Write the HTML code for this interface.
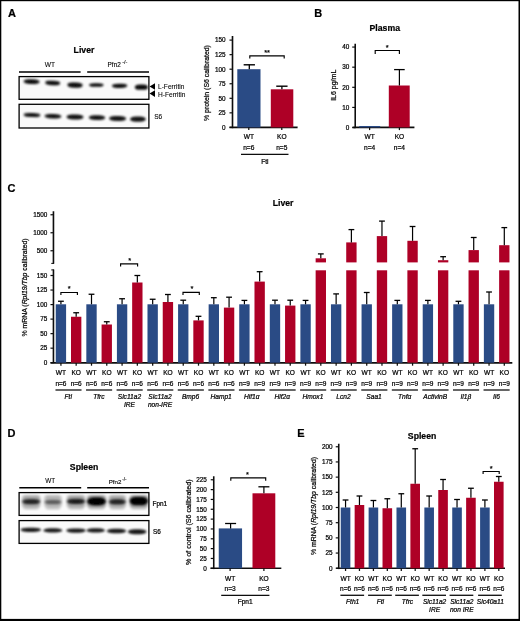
<!DOCTYPE html>
<html><head><meta charset="utf-8"><title>Figure</title>
<style>html,body{margin:0;padding:0;background:#fff;}svg{display:block;}</style></head>
<body>
<svg width="520" height="621" viewBox="0 0 520 621" font-family="'Liberation Sans', sans-serif" fill="#000" stroke="#000" stroke-width="0">
<defs><filter id="b1" x="-20%" y="-60%" width="140%" height="220%"><feGaussianBlur stdDeviation="1.1 0.85"/></filter><filter id="b2" x="-20%" y="-60%" width="140%" height="220%"><feGaussianBlur stdDeviation="1.4 1.2"/></filter><filter id="b3" x="-5%" y="-5%" width="110%" height="110%"><feGaussianBlur stdDeviation="0.3"/></filter></defs>
<rect x="0" y="0" width="520" height="621" fill="#fff"/>
<g filter="url(#b3)">
<text x="7.90" y="16.80" stroke-width="0.22" font-size="11" text-anchor="start" font-weight="bold" font-style="normal" >A</text>
<text x="314.20" y="17.00" stroke-width="0.22" font-size="11" text-anchor="start" font-weight="bold" font-style="normal" >B</text>
<text x="7.50" y="192.20" stroke-width="0.22" font-size="11" text-anchor="start" font-weight="bold" font-style="normal" >C</text>
<text x="7.50" y="437.30" stroke-width="0.22" font-size="11" text-anchor="start" font-weight="bold" font-style="normal" >D</text>
<text x="297.30" y="437.10" stroke-width="0.22" font-size="11" text-anchor="start" font-weight="bold" font-style="normal" >E</text>
<text x="84.00" y="53.00" stroke-width="0.22" font-size="8.7" text-anchor="middle" font-weight="bold" font-style="normal" >Liver</text>
<text x="384.80" y="31.30" stroke-width="0.22" font-size="8.7" text-anchor="middle" font-weight="bold" font-style="normal" >Plasma</text>
<text x="283.10" y="206.20" stroke-width="0.22" font-size="8.7" text-anchor="middle" font-weight="bold" font-style="normal" >Liver</text>
<text x="84.10" y="470.00" stroke-width="0.22" font-size="8.7" text-anchor="middle" font-weight="bold" font-style="normal" >Spleen</text>
<text x="422.10" y="438.80" stroke-width="0.22" font-size="8.7" text-anchor="middle" font-weight="bold" font-style="normal" >Spleen</text>
<text x="50.00" y="66.70" stroke-width="0.08" font-size="6.6" text-anchor="middle" font-weight="normal" font-style="normal" >WT</text>
<text x="107.6" y="66.9" font-size="6.4" stroke-width="0.12" text-anchor="start">Pfn2<tspan dx="1.4" dy="-3.2" font-size="5.6">-/-</tspan></text>
<line x1="19.00" y1="72.00" x2="80.60" y2="72.00" stroke="#000" stroke-width="1.4"/>
<line x1="87.20" y1="72.00" x2="149.00" y2="72.00" stroke="#000" stroke-width="1.4"/>
<rect x="19.1" y="76.6" width="129.8" height="22.700000000000003" fill="#fafafa" stroke="#000" stroke-width="1.3"/>
<rect x="19.1" y="104.3" width="129.8" height="23.700000000000003" fill="#fafafa" stroke="#000" stroke-width="1.3"/>
<rect x="23.60" y="79.30" width="16.00" height="4.60" rx="5.76" ry="2.30" fill="#000" opacity="0.95" filter="url(#b1)" transform="rotate(2 31.60 81.60)"/>
<rect x="45.20" y="80.85" width="15.00" height="4.30" rx="5.40" ry="2.15" fill="#000" opacity="0.95" filter="url(#b1)" transform="rotate(3 52.70 83.00)"/>
<rect x="67.25" y="82.50" width="15.50" height="5.20" rx="5.58" ry="2.60" fill="#000" opacity="0.95" filter="url(#b1)" transform="rotate(2 75.00 85.10)"/>
<rect x="89.05" y="83.20" width="14.50" height="3.60" rx="5.22" ry="1.80" fill="#000" opacity="0.95" filter="url(#b1)" transform="rotate(0 96.30 85.00)"/>
<rect x="111.85" y="83.70" width="15.50" height="4.20" rx="5.58" ry="2.10" fill="#000" opacity="0.95" filter="url(#b1)" transform="rotate(-1 119.60 85.80)"/>
<rect x="134.90" y="84.60" width="13.00" height="5.20" rx="4.68" ry="2.60" fill="#000" opacity="0.95" filter="url(#b1)" transform="rotate(0 141.40 87.20)"/>
<rect x="23.50" y="113.00" width="17.00" height="4.00" rx="6.12" ry="2.00" fill="#000" opacity="0.92" filter="url(#b1)" transform="rotate(2 32.00 115.00)"/>
<rect x="44.50" y="114.00" width="17.00" height="4.40" rx="6.12" ry="2.20" fill="#000" opacity="0.92" filter="url(#b1)" transform="rotate(2 53.00 116.20)"/>
<rect x="66.50" y="114.55" width="17.00" height="4.90" rx="6.12" ry="2.45" fill="#000" opacity="0.92" filter="url(#b1)" transform="rotate(1 75.00 117.00)"/>
<rect x="88.75" y="115.20" width="16.50" height="4.80" rx="5.94" ry="2.40" fill="#000" opacity="0.92" filter="url(#b1)" transform="rotate(1 97.00 117.60)"/>
<rect x="109.10" y="116.10" width="17.00" height="5.00" rx="6.12" ry="2.50" fill="#000" opacity="0.92" filter="url(#b1)" transform="rotate(1 117.60 118.60)"/>
<rect x="130.15" y="116.60" width="15.50" height="5.20" rx="5.58" ry="2.60" fill="#000" opacity="0.92" filter="url(#b1)" transform="rotate(0 137.90 119.20)"/>
<polygon points="149.5,86.5 155.0,83.2 155.0,89.8" fill="#000"/>
<polygon points="149.5,93.6 155.0,90.3 155.0,96.9" fill="#000"/>
<text x="158.00" y="89.00" stroke-width="0.08" font-size="6.6" text-anchor="start" font-weight="normal" font-style="normal" >L-Ferritin</text>
<text x="158.00" y="96.60" stroke-width="0.08" font-size="6.6" text-anchor="start" font-weight="normal" font-style="normal" >H-Ferritin</text>
<text x="154.20" y="118.90" stroke-width="0.08" font-size="6.6" text-anchor="start" font-weight="normal" font-style="normal" >S6</text>
<text x="50.20" y="483.00" stroke-width="0.08" font-size="6.4" text-anchor="middle" font-weight="normal" font-style="normal" >WT</text>
<text x="108.7" y="483.6" font-size="6.2" stroke-width="0.12" text-anchor="start">Pfn2<tspan dx="0.8" dy="-2.4" font-size="4.6">-/-</tspan></text>
<line x1="19.30" y1="487.80" x2="81.20" y2="487.80" stroke="#000" stroke-width="1.4"/>
<line x1="87.20" y1="487.80" x2="149.00" y2="487.80" stroke="#000" stroke-width="1.4"/>
<rect x="19.1" y="492.6" width="129.8" height="22.799999999999955" fill="#fafafa" stroke="#000" stroke-width="1.3"/>
<rect x="19.1" y="520.6" width="129.8" height="22.799999999999955" fill="#fafafa" stroke="#000" stroke-width="1.3"/>
<rect x="22.20" y="495.2" width="18.00" height="12.5" rx="3" fill="#000" opacity="0.32" filter="url(#b2)"/>
<rect x="22.20" y="499.00" width="18.00" height="5.20" rx="6.48" ry="2.60" fill="#000" opacity="0.651" filter="url(#b2)" transform="rotate(0 31.20 501.60)"/>
<rect x="23.46" y="500.50" width="15.48" height="2.60" rx="5.57" ry="1.30" fill="#000" opacity="0.496" filter="url(#b1)" transform="rotate(0 31.20 501.80)"/>
<rect x="22.65" y="507.70" width="17.10" height="1.80" rx="6.16" ry="0.90" fill="#000" opacity="0.2" filter="url(#b1)" transform="rotate(0 31.20 508.60)"/>
<rect x="44.50" y="495.2" width="17.00" height="12.5" rx="3" fill="#000" opacity="0.27" filter="url(#b2)"/>
<rect x="44.50" y="499.70" width="17.00" height="4.60" rx="6.12" ry="2.30" fill="#000" opacity="0.35700000000000004" filter="url(#b2)" transform="rotate(0 53.00 502.00)"/>
<rect x="45.69" y="501.05" width="14.62" height="2.30" rx="5.26" ry="1.15" fill="#000" opacity="0.272" filter="url(#b1)" transform="rotate(0 53.00 502.20)"/>
<rect x="44.92" y="507.70" width="16.15" height="1.80" rx="5.81" ry="0.90" fill="#000" opacity="0.2" filter="url(#b1)" transform="rotate(0 53.00 508.60)"/>
<rect x="67.00" y="495.2" width="18.00" height="12.5" rx="3" fill="#000" opacity="0.33" filter="url(#b2)"/>
<rect x="67.00" y="498.70" width="18.00" height="5.40" rx="6.48" ry="2.70" fill="#000" opacity="0.6930000000000001" filter="url(#b2)" transform="rotate(0 76.00 501.40)"/>
<rect x="68.26" y="500.25" width="15.48" height="2.70" rx="5.57" ry="1.35" fill="#000" opacity="0.528" filter="url(#b1)" transform="rotate(0 76.00 501.60)"/>
<rect x="67.45" y="507.70" width="17.10" height="1.80" rx="6.16" ry="0.90" fill="#000" opacity="0.2" filter="url(#b1)" transform="rotate(0 76.00 508.60)"/>
<rect x="87.25" y="495.2" width="18.50" height="12.5" rx="3" fill="#000" opacity="0.40" filter="url(#b2)"/>
<rect x="87.25" y="497.60" width="18.50" height="7.60" rx="6.66" ry="3.80" fill="#000" opacity="1" filter="url(#b2)" transform="rotate(0 96.50 501.40)"/>
<rect x="88.55" y="499.70" width="15.91" height="3.80" rx="5.73" ry="1.90" fill="#000" opacity="0.8" filter="url(#b1)" transform="rotate(0 96.50 501.60)"/>
<rect x="87.71" y="507.70" width="17.57" height="1.80" rx="6.33" ry="0.90" fill="#000" opacity="0.2" filter="url(#b1)" transform="rotate(0 96.50 508.60)"/>
<rect x="108.80" y="495.2" width="17.00" height="12.5" rx="3" fill="#000" opacity="0.32" filter="url(#b2)"/>
<rect x="108.80" y="499.10" width="17.00" height="5.40" rx="6.12" ry="2.70" fill="#000" opacity="0.651" filter="url(#b2)" transform="rotate(0 117.30 501.80)"/>
<rect x="109.99" y="500.65" width="14.62" height="2.70" rx="5.26" ry="1.35" fill="#000" opacity="0.496" filter="url(#b1)" transform="rotate(0 117.30 502.00)"/>
<rect x="109.22" y="507.70" width="16.15" height="1.80" rx="5.81" ry="0.90" fill="#000" opacity="0.2" filter="url(#b1)" transform="rotate(0 117.30 508.60)"/>
<rect x="129.80" y="495.2" width="18.00" height="12.5" rx="3" fill="#000" opacity="0.40" filter="url(#b2)"/>
<rect x="129.80" y="496.90" width="18.00" height="8.20" rx="6.48" ry="4.10" fill="#000" opacity="1" filter="url(#b2)" transform="rotate(0 138.80 501.00)"/>
<rect x="131.06" y="499.15" width="15.48" height="4.10" rx="5.57" ry="2.05" fill="#000" opacity="0.8" filter="url(#b1)" transform="rotate(0 138.80 501.20)"/>
<rect x="130.25" y="507.70" width="17.10" height="1.80" rx="6.16" ry="0.90" fill="#000" opacity="0.2" filter="url(#b1)" transform="rotate(0 138.80 508.60)"/>
<rect x="20.55" y="527.65" width="20.50" height="4.30" rx="7.38" ry="2.15" fill="#000" opacity="0.9" filter="url(#b1)" transform="rotate(0 30.80 529.80)"/>
<rect x="43.30" y="528.35" width="19.00" height="4.10" rx="6.84" ry="2.05" fill="#000" opacity="0.9" filter="url(#b1)" transform="rotate(0 52.80 530.40)"/>
<rect x="66.25" y="528.45" width="19.50" height="4.30" rx="7.02" ry="2.15" fill="#000" opacity="0.9" filter="url(#b1)" transform="rotate(0 76.00 530.60)"/>
<rect x="86.45" y="528.35" width="18.50" height="4.10" rx="6.66" ry="2.05" fill="#000" opacity="0.9" filter="url(#b1)" transform="rotate(0 95.70 530.40)"/>
<rect x="106.75" y="528.85" width="19.50" height="4.30" rx="7.02" ry="2.15" fill="#000" opacity="0.9" filter="url(#b1)" transform="rotate(0 116.50 531.00)"/>
<rect x="127.95" y="529.35" width="18.50" height="4.90" rx="6.66" ry="2.45" fill="#000" opacity="0.9" filter="url(#b1)" transform="rotate(0 137.20 531.80)"/>
<text x="152.60" y="505.60" stroke-width="0.22" font-size="6.4" text-anchor="start" font-weight="normal" font-style="normal" >Fpn1</text>
<text x="153.00" y="534.00" stroke-width="0.22" font-size="6.4" text-anchor="start" font-weight="normal" font-style="normal" >S6</text>
<line x1="232.50" y1="36.00" x2="232.50" y2="128.20" stroke="#111" stroke-width="1.6"/>
<line x1="229.50" y1="127.40" x2="232.50" y2="127.40" stroke="#111" stroke-width="1.2"/>
<text x="225.60" y="129.70" stroke-width="0.22" font-size="6.3999999999999995" text-anchor="end" font-weight="normal" font-style="normal" >0</text>
<line x1="229.50" y1="112.85" x2="232.50" y2="112.85" stroke="#111" stroke-width="1.2"/>
<text x="225.60" y="115.15" stroke-width="0.22" font-size="6.3999999999999995" text-anchor="end" font-weight="normal" font-style="normal" >25</text>
<line x1="229.50" y1="98.30" x2="232.50" y2="98.30" stroke="#111" stroke-width="1.2"/>
<text x="225.60" y="100.60" stroke-width="0.22" font-size="6.3999999999999995" text-anchor="end" font-weight="normal" font-style="normal" >50</text>
<line x1="229.50" y1="83.75" x2="232.50" y2="83.75" stroke="#111" stroke-width="1.2"/>
<text x="225.60" y="86.05" stroke-width="0.22" font-size="6.3999999999999995" text-anchor="end" font-weight="normal" font-style="normal" >75</text>
<line x1="229.50" y1="69.20" x2="232.50" y2="69.20" stroke="#111" stroke-width="1.2"/>
<text x="225.60" y="71.50" stroke-width="0.22" font-size="6.3999999999999995" text-anchor="end" font-weight="normal" font-style="normal" >100</text>
<line x1="229.50" y1="54.65" x2="232.50" y2="54.65" stroke="#111" stroke-width="1.2"/>
<text x="225.60" y="56.95" stroke-width="0.22" font-size="6.3999999999999995" text-anchor="end" font-weight="normal" font-style="normal" >125</text>
<line x1="229.50" y1="40.10" x2="232.50" y2="40.10" stroke="#111" stroke-width="1.2"/>
<text x="225.60" y="42.40" stroke-width="0.22" font-size="6.3999999999999995" text-anchor="end" font-weight="normal" font-style="normal" >150</text>
<line x1="229.50" y1="127.40" x2="297.60" y2="127.40" stroke="#111" stroke-width="1.6"/>
<rect x="237.30" y="69.20" width="23.20" height="58.20" fill="#2B4B85"/>
<line x1="249.30" y1="64.80" x2="249.30" y2="69.20" stroke="#000" stroke-width="1.3"/>
<line x1="243.65" y1="64.80" x2="254.95" y2="64.80" stroke="#000" stroke-width="1.4"/>
<rect x="270.80" y="89.30" width="22.50" height="38.10" fill="#AE0428"/>
<line x1="281.90" y1="86.20" x2="281.90" y2="89.30" stroke="#000" stroke-width="1.3"/>
<line x1="276.25" y1="86.20" x2="287.55" y2="86.20" stroke="#000" stroke-width="1.4"/>
<polyline points="249.80,58.50 249.80,55.80 284.20,55.80 284.20,58.50" fill="none" stroke="#000" stroke-width="1.15"/>
<text x="267.10" y="54.50" stroke-width="0.22" font-size="7.5" text-anchor="middle" font-weight="normal" font-style="normal" >**</text>
<line x1="248.80" y1="127.40" x2="248.80" y2="130.10" stroke="#111" stroke-width="1.25"/>
<text x="248.80" y="139.20" stroke-width="0.22" font-size="6.6" text-anchor="middle" font-weight="normal" font-style="normal" >WT</text>
<text x="248.80" y="149.80" stroke-width="0.22" font-size="6.6" text-anchor="middle" font-weight="normal" font-style="normal" >n=6</text>
<line x1="281.80" y1="127.40" x2="281.80" y2="130.10" stroke="#111" stroke-width="1.25"/>
<text x="281.80" y="139.20" stroke-width="0.22" font-size="6.6" text-anchor="middle" font-weight="normal" font-style="normal" >KO</text>
<text x="281.80" y="149.80" stroke-width="0.22" font-size="6.6" text-anchor="middle" font-weight="normal" font-style="normal" >n=5</text>
<line x1="241.00" y1="154.30" x2="288.50" y2="154.30" stroke="#111" stroke-width="1.3"/>
<text x="264.80" y="163.60" stroke-width="0.22" font-size="6.6" text-anchor="middle" font-weight="normal" font-style="normal" >Ftl</text>
<text transform="translate(209.20,83.00) rotate(-90)" stroke-width="0.22" font-size="6.9" text-anchor="middle">% protein (S6 calibrated)</text>
<line x1="355.20" y1="43.70" x2="355.20" y2="128.20" stroke="#111" stroke-width="1.6"/>
<line x1="352.20" y1="127.55" x2="355.20" y2="127.55" stroke="#111" stroke-width="1.2"/>
<text x="349.40" y="129.85" stroke-width="0.22" font-size="6.3999999999999995" text-anchor="end" font-weight="normal" font-style="normal" >0</text>
<line x1="352.20" y1="107.43" x2="355.20" y2="107.43" stroke="#111" stroke-width="1.2"/>
<text x="349.40" y="109.73" stroke-width="0.22" font-size="6.3999999999999995" text-anchor="end" font-weight="normal" font-style="normal" >10</text>
<line x1="352.20" y1="87.31" x2="355.20" y2="87.31" stroke="#111" stroke-width="1.2"/>
<text x="349.40" y="89.61" stroke-width="0.22" font-size="6.3999999999999995" text-anchor="end" font-weight="normal" font-style="normal" >20</text>
<line x1="352.20" y1="67.19" x2="355.20" y2="67.19" stroke="#111" stroke-width="1.2"/>
<text x="349.40" y="69.49" stroke-width="0.22" font-size="6.3999999999999995" text-anchor="end" font-weight="normal" font-style="normal" >30</text>
<line x1="352.20" y1="47.07" x2="355.20" y2="47.07" stroke="#111" stroke-width="1.2"/>
<text x="349.40" y="49.37" stroke-width="0.22" font-size="6.3999999999999995" text-anchor="end" font-weight="normal" font-style="normal" >40</text>
<line x1="352.60" y1="127.40" x2="414.40" y2="127.40" stroke="#111" stroke-width="1.6"/>
<rect x="359.20" y="126.00" width="21.00" height="1.40" fill="#2B4B85"/>
<rect x="388.80" y="85.50" width="20.90" height="41.90" fill="#AE0428"/>
<line x1="399.40" y1="69.60" x2="399.40" y2="85.50" stroke="#000" stroke-width="1.2"/>
<line x1="394.10" y1="69.60" x2="404.70" y2="69.60" stroke="#000" stroke-width="1.2999999999999998"/>
<polyline points="375.20,53.90 375.20,50.50 399.40,50.50 399.40,53.90" fill="none" stroke="#000" stroke-width="1.15"/>
<text x="387.20" y="49.70" stroke-width="0.22" font-size="7.5" text-anchor="middle" font-weight="normal" font-style="normal" >*</text>
<line x1="369.60" y1="127.40" x2="369.60" y2="130.10" stroke="#111" stroke-width="1.25"/>
<text x="369.60" y="139.40" stroke-width="0.22" font-size="6.6" text-anchor="middle" font-weight="normal" font-style="normal" >WT</text>
<text x="369.60" y="150.00" stroke-width="0.22" font-size="6.6" text-anchor="middle" font-weight="normal" font-style="normal" >n=4</text>
<line x1="399.40" y1="127.40" x2="399.40" y2="130.10" stroke="#111" stroke-width="1.25"/>
<text x="399.40" y="139.40" stroke-width="0.22" font-size="6.6" text-anchor="middle" font-weight="normal" font-style="normal" >KO</text>
<text x="399.40" y="150.00" stroke-width="0.22" font-size="6.6" text-anchor="middle" font-weight="normal" font-style="normal" >n=4</text>
<text transform="translate(336.30,85.30) rotate(-90)" stroke-width="0.22" font-size="7.0" text-anchor="middle">IL6 pg/mL</text>
<line x1="53.45" y1="211.25" x2="53.45" y2="263.75" stroke="#111" stroke-width="1.6"/>
<line x1="53.45" y1="269.50" x2="53.45" y2="363.20" stroke="#111" stroke-width="1.6"/>
<line x1="50.45" y1="214.75" x2="53.45" y2="214.75" stroke="#111" stroke-width="1.2"/>
<text x="47.40" y="217.05" stroke-width="0.22" font-size="6.3999999999999995" text-anchor="end" font-weight="normal" font-style="normal" >1500</text>
<line x1="50.45" y1="232.75" x2="53.45" y2="232.75" stroke="#111" stroke-width="1.2"/>
<text x="47.40" y="235.05" stroke-width="0.22" font-size="6.3999999999999995" text-anchor="end" font-weight="normal" font-style="normal" >1000</text>
<line x1="50.45" y1="250.75" x2="53.45" y2="250.75" stroke="#111" stroke-width="1.2"/>
<text x="47.40" y="253.05" stroke-width="0.22" font-size="6.3999999999999995" text-anchor="end" font-weight="normal" font-style="normal" >500</text>
<line x1="51.25" y1="263.40" x2="53.95" y2="263.40" stroke="#111" stroke-width="1.0"/>
<line x1="51.25" y1="269.90" x2="53.95" y2="269.90" stroke="#111" stroke-width="1.0"/>
<line x1="50.45" y1="362.70" x2="53.45" y2="362.70" stroke="#111" stroke-width="1.2"/>
<text x="47.40" y="365.00" stroke-width="0.22" font-size="6.3999999999999995" text-anchor="end" font-weight="normal" font-style="normal" >0</text>
<line x1="50.45" y1="348.17" x2="53.45" y2="348.17" stroke="#111" stroke-width="1.2"/>
<text x="47.40" y="350.47" stroke-width="0.22" font-size="6.3999999999999995" text-anchor="end" font-weight="normal" font-style="normal" >25</text>
<line x1="50.45" y1="333.63" x2="53.45" y2="333.63" stroke="#111" stroke-width="1.2"/>
<text x="47.40" y="335.94" stroke-width="0.22" font-size="6.3999999999999995" text-anchor="end" font-weight="normal" font-style="normal" >50</text>
<line x1="50.45" y1="319.10" x2="53.45" y2="319.10" stroke="#111" stroke-width="1.2"/>
<text x="47.40" y="321.40" stroke-width="0.22" font-size="6.3999999999999995" text-anchor="end" font-weight="normal" font-style="normal" >75</text>
<line x1="50.45" y1="304.57" x2="53.45" y2="304.57" stroke="#111" stroke-width="1.2"/>
<text x="47.40" y="306.87" stroke-width="0.22" font-size="6.3999999999999995" text-anchor="end" font-weight="normal" font-style="normal" >100</text>
<line x1="50.45" y1="290.04" x2="53.45" y2="290.04" stroke="#111" stroke-width="1.2"/>
<text x="47.40" y="292.34" stroke-width="0.22" font-size="6.3999999999999995" text-anchor="end" font-weight="normal" font-style="normal" >125</text>
<line x1="50.45" y1="275.50" x2="53.45" y2="275.50" stroke="#111" stroke-width="1.2"/>
<text x="47.40" y="277.81" stroke-width="0.22" font-size="6.3999999999999995" text-anchor="end" font-weight="normal" font-style="normal" >150</text>
<line x1="50.50" y1="362.90" x2="512.30" y2="362.90" stroke="#111" stroke-width="1.6"/>
<rect x="55.75" y="304.30" width="10.35" height="58.40" fill="#2B4B85"/>
<line x1="60.92" y1="301.25" x2="60.92" y2="304.30" stroke="#000" stroke-width="1.2"/>
<line x1="58.02" y1="301.25" x2="63.82" y2="301.25" stroke="#000" stroke-width="1.2999999999999998"/>
<rect x="71.00" y="316.75" width="10.35" height="45.95" fill="#AE0428"/>
<line x1="76.17" y1="312.75" x2="76.17" y2="316.75" stroke="#000" stroke-width="1.2"/>
<line x1="73.27" y1="312.75" x2="79.08" y2="312.75" stroke="#000" stroke-width="1.2999999999999998"/>
<line x1="60.92" y1="362.90" x2="60.92" y2="365.70" stroke="#111" stroke-width="1.25"/>
<text x="60.92" y="375.20" stroke-width="0.22" font-size="6.6" text-anchor="middle" font-weight="normal" font-style="normal" >WT</text>
<text x="60.92" y="385.60" stroke-width="0.22" font-size="6.5" text-anchor="middle" font-weight="normal" font-style="normal" >n=6</text>
<line x1="76.17" y1="362.90" x2="76.17" y2="365.70" stroke="#111" stroke-width="1.25"/>
<text x="76.17" y="375.20" stroke-width="0.22" font-size="6.6" text-anchor="middle" font-weight="normal" font-style="normal" >KO</text>
<text x="76.17" y="385.60" stroke-width="0.22" font-size="6.5" text-anchor="middle" font-weight="normal" font-style="normal" >n=6</text>
<line x1="55.45" y1="390.00" x2="81.55" y2="390.00" stroke="#111" stroke-width="1.3"/>
<text x="68.25" y="398.80" stroke-width="0.22" font-size="6.6" text-anchor="middle" font-weight="normal" font-style="italic" >Ftl</text>
<rect x="86.33" y="304.30" width="10.35" height="58.40" fill="#2B4B85"/>
<line x1="91.50" y1="294.25" x2="91.50" y2="304.30" stroke="#000" stroke-width="1.2"/>
<line x1="88.60" y1="294.25" x2="94.41" y2="294.25" stroke="#000" stroke-width="1.2999999999999998"/>
<rect x="101.58" y="324.50" width="10.35" height="38.20" fill="#AE0428"/>
<line x1="106.75" y1="321.75" x2="106.75" y2="324.50" stroke="#000" stroke-width="1.2"/>
<line x1="103.85" y1="321.75" x2="109.66" y2="321.75" stroke="#000" stroke-width="1.2999999999999998"/>
<line x1="91.50" y1="362.90" x2="91.50" y2="365.70" stroke="#111" stroke-width="1.25"/>
<text x="91.50" y="375.20" stroke-width="0.22" font-size="6.6" text-anchor="middle" font-weight="normal" font-style="normal" >WT</text>
<text x="91.50" y="385.60" stroke-width="0.22" font-size="6.5" text-anchor="middle" font-weight="normal" font-style="normal" >n=6</text>
<line x1="106.75" y1="362.90" x2="106.75" y2="365.70" stroke="#111" stroke-width="1.25"/>
<text x="106.75" y="375.20" stroke-width="0.22" font-size="6.6" text-anchor="middle" font-weight="normal" font-style="normal" >KO</text>
<text x="106.75" y="385.60" stroke-width="0.22" font-size="6.5" text-anchor="middle" font-weight="normal" font-style="normal" >n=6</text>
<line x1="86.03" y1="390.00" x2="112.13" y2="390.00" stroke="#111" stroke-width="1.3"/>
<text x="98.83" y="398.80" stroke-width="0.22" font-size="6.6" text-anchor="middle" font-weight="normal" font-style="italic" >Tfrc</text>
<rect x="116.91" y="304.30" width="10.35" height="58.40" fill="#2B4B85"/>
<line x1="122.08" y1="298.75" x2="122.08" y2="304.30" stroke="#000" stroke-width="1.2"/>
<line x1="119.18" y1="298.75" x2="124.98" y2="298.75" stroke="#000" stroke-width="1.2999999999999998"/>
<rect x="132.16" y="282.50" width="10.35" height="80.20" fill="#AE0428"/>
<line x1="137.34" y1="275.50" x2="137.34" y2="282.50" stroke="#000" stroke-width="1.2"/>
<line x1="134.44" y1="275.50" x2="140.24" y2="275.50" stroke="#000" stroke-width="1.2999999999999998"/>
<line x1="122.08" y1="362.90" x2="122.08" y2="365.70" stroke="#111" stroke-width="1.25"/>
<text x="122.08" y="375.20" stroke-width="0.22" font-size="6.6" text-anchor="middle" font-weight="normal" font-style="normal" >WT</text>
<text x="122.08" y="385.60" stroke-width="0.22" font-size="6.5" text-anchor="middle" font-weight="normal" font-style="normal" >n=6</text>
<line x1="137.34" y1="362.90" x2="137.34" y2="365.70" stroke="#111" stroke-width="1.25"/>
<text x="137.34" y="375.20" stroke-width="0.22" font-size="6.6" text-anchor="middle" font-weight="normal" font-style="normal" >KO</text>
<text x="137.34" y="385.60" stroke-width="0.22" font-size="6.5" text-anchor="middle" font-weight="normal" font-style="normal" >n=6</text>
<line x1="116.61" y1="390.00" x2="142.71" y2="390.00" stroke="#111" stroke-width="1.3"/>
<text x="129.41" y="398.80" stroke-width="0.22" font-size="6.6" text-anchor="middle" font-weight="normal" font-style="italic" >Slc11a2</text>
<text x="129.41" y="407.20" stroke-width="0.22" font-size="6.6" text-anchor="middle" font-weight="normal" font-style="italic" >IRE</text>
<rect x="147.49" y="304.30" width="10.35" height="58.40" fill="#2B4B85"/>
<line x1="152.67" y1="299.25" x2="152.67" y2="304.30" stroke="#000" stroke-width="1.2"/>
<line x1="149.77" y1="299.25" x2="155.57" y2="299.25" stroke="#000" stroke-width="1.2999999999999998"/>
<rect x="162.74" y="302.00" width="10.35" height="60.70" fill="#AE0428"/>
<line x1="167.92" y1="294.50" x2="167.92" y2="302.00" stroke="#000" stroke-width="1.2"/>
<line x1="165.02" y1="294.50" x2="170.82" y2="294.50" stroke="#000" stroke-width="1.2999999999999998"/>
<line x1="152.67" y1="362.90" x2="152.67" y2="365.70" stroke="#111" stroke-width="1.25"/>
<text x="152.67" y="375.20" stroke-width="0.22" font-size="6.6" text-anchor="middle" font-weight="normal" font-style="normal" >WT</text>
<text x="152.67" y="385.60" stroke-width="0.22" font-size="6.5" text-anchor="middle" font-weight="normal" font-style="normal" >n=6</text>
<line x1="167.92" y1="362.90" x2="167.92" y2="365.70" stroke="#111" stroke-width="1.25"/>
<text x="167.92" y="375.20" stroke-width="0.22" font-size="6.6" text-anchor="middle" font-weight="normal" font-style="normal" >KO</text>
<text x="167.92" y="385.60" stroke-width="0.22" font-size="6.5" text-anchor="middle" font-weight="normal" font-style="normal" >n=6</text>
<line x1="147.19" y1="390.00" x2="173.29" y2="390.00" stroke="#111" stroke-width="1.3"/>
<text x="159.99" y="398.80" stroke-width="0.22" font-size="6.6" text-anchor="middle" font-weight="normal" font-style="italic" >Slc11a2</text>
<text x="159.99" y="407.20" stroke-width="0.22" font-size="6.6" text-anchor="middle" font-weight="normal" font-style="italic" >non-IRE</text>
<rect x="178.07" y="304.30" width="10.35" height="58.40" fill="#2B4B85"/>
<line x1="183.25" y1="300.20" x2="183.25" y2="304.30" stroke="#000" stroke-width="1.2"/>
<line x1="180.34" y1="300.20" x2="186.15" y2="300.20" stroke="#000" stroke-width="1.2999999999999998"/>
<rect x="193.32" y="320.40" width="10.35" height="42.30" fill="#AE0428"/>
<line x1="198.50" y1="316.30" x2="198.50" y2="320.40" stroke="#000" stroke-width="1.2"/>
<line x1="195.59" y1="316.30" x2="201.40" y2="316.30" stroke="#000" stroke-width="1.2999999999999998"/>
<line x1="183.25" y1="362.90" x2="183.25" y2="365.70" stroke="#111" stroke-width="1.25"/>
<text x="183.25" y="375.20" stroke-width="0.22" font-size="6.6" text-anchor="middle" font-weight="normal" font-style="normal" >WT</text>
<text x="183.25" y="385.60" stroke-width="0.22" font-size="6.5" text-anchor="middle" font-weight="normal" font-style="normal" >n=6</text>
<line x1="198.50" y1="362.90" x2="198.50" y2="365.70" stroke="#111" stroke-width="1.25"/>
<text x="198.50" y="375.20" stroke-width="0.22" font-size="6.6" text-anchor="middle" font-weight="normal" font-style="normal" >KO</text>
<text x="198.50" y="385.60" stroke-width="0.22" font-size="6.5" text-anchor="middle" font-weight="normal" font-style="normal" >n=6</text>
<line x1="177.77" y1="390.00" x2="203.87" y2="390.00" stroke="#111" stroke-width="1.3"/>
<text x="190.57" y="398.80" stroke-width="0.22" font-size="6.6" text-anchor="middle" font-weight="normal" font-style="italic" >Bmp6</text>
<rect x="208.65" y="304.30" width="10.35" height="58.40" fill="#2B4B85"/>
<line x1="213.82" y1="297.70" x2="213.82" y2="304.30" stroke="#000" stroke-width="1.2"/>
<line x1="210.92" y1="297.70" x2="216.72" y2="297.70" stroke="#000" stroke-width="1.2999999999999998"/>
<rect x="223.90" y="307.60" width="10.35" height="55.10" fill="#AE0428"/>
<line x1="229.07" y1="297.20" x2="229.07" y2="307.60" stroke="#000" stroke-width="1.2"/>
<line x1="226.17" y1="297.20" x2="231.97" y2="297.20" stroke="#000" stroke-width="1.2999999999999998"/>
<line x1="213.82" y1="362.90" x2="213.82" y2="365.70" stroke="#111" stroke-width="1.25"/>
<text x="213.82" y="375.20" stroke-width="0.22" font-size="6.6" text-anchor="middle" font-weight="normal" font-style="normal" >WT</text>
<text x="213.82" y="385.60" stroke-width="0.22" font-size="6.5" text-anchor="middle" font-weight="normal" font-style="normal" >n=6</text>
<line x1="229.07" y1="362.90" x2="229.07" y2="365.70" stroke="#111" stroke-width="1.25"/>
<text x="229.07" y="375.20" stroke-width="0.22" font-size="6.6" text-anchor="middle" font-weight="normal" font-style="normal" >KO</text>
<text x="229.07" y="385.60" stroke-width="0.22" font-size="6.5" text-anchor="middle" font-weight="normal" font-style="normal" >n=6</text>
<line x1="208.35" y1="390.00" x2="234.45" y2="390.00" stroke="#111" stroke-width="1.3"/>
<text x="221.15" y="398.80" stroke-width="0.22" font-size="6.6" text-anchor="middle" font-weight="normal" font-style="italic" >Hamp1</text>
<rect x="239.23" y="304.30" width="10.35" height="58.40" fill="#2B4B85"/>
<line x1="244.41" y1="300.40" x2="244.41" y2="304.30" stroke="#000" stroke-width="1.2"/>
<line x1="241.50" y1="300.40" x2="247.31" y2="300.40" stroke="#000" stroke-width="1.2999999999999998"/>
<rect x="254.48" y="281.60" width="10.35" height="81.10" fill="#AE0428"/>
<line x1="259.65" y1="271.70" x2="259.65" y2="281.60" stroke="#000" stroke-width="1.2"/>
<line x1="256.75" y1="271.70" x2="262.55" y2="271.70" stroke="#000" stroke-width="1.2999999999999998"/>
<line x1="244.41" y1="362.90" x2="244.41" y2="365.70" stroke="#111" stroke-width="1.25"/>
<text x="244.41" y="375.20" stroke-width="0.22" font-size="6.6" text-anchor="middle" font-weight="normal" font-style="normal" >WT</text>
<text x="244.41" y="385.60" stroke-width="0.22" font-size="6.5" text-anchor="middle" font-weight="normal" font-style="normal" >n=9</text>
<line x1="259.65" y1="362.90" x2="259.65" y2="365.70" stroke="#111" stroke-width="1.25"/>
<text x="259.65" y="375.20" stroke-width="0.22" font-size="6.6" text-anchor="middle" font-weight="normal" font-style="normal" >KO</text>
<text x="259.65" y="385.60" stroke-width="0.22" font-size="6.5" text-anchor="middle" font-weight="normal" font-style="normal" >n=9</text>
<line x1="238.93" y1="390.00" x2="265.03" y2="390.00" stroke="#111" stroke-width="1.3"/>
<text x="251.73" y="398.80" stroke-width="0.22" font-size="6.6" text-anchor="middle" font-weight="normal" font-style="italic" >Hif1α</text>
<rect x="269.81" y="304.30" width="10.35" height="58.40" fill="#2B4B85"/>
<line x1="274.99" y1="300.20" x2="274.99" y2="304.30" stroke="#000" stroke-width="1.2"/>
<line x1="272.09" y1="300.20" x2="277.88" y2="300.20" stroke="#000" stroke-width="1.2999999999999998"/>
<rect x="285.06" y="305.60" width="10.35" height="57.10" fill="#AE0428"/>
<line x1="290.24" y1="300.20" x2="290.24" y2="305.60" stroke="#000" stroke-width="1.2"/>
<line x1="287.34" y1="300.20" x2="293.13" y2="300.20" stroke="#000" stroke-width="1.2999999999999998"/>
<line x1="274.99" y1="362.90" x2="274.99" y2="365.70" stroke="#111" stroke-width="1.25"/>
<text x="274.99" y="375.20" stroke-width="0.22" font-size="6.6" text-anchor="middle" font-weight="normal" font-style="normal" >WT</text>
<text x="274.99" y="385.60" stroke-width="0.22" font-size="6.5" text-anchor="middle" font-weight="normal" font-style="normal" >n=9</text>
<line x1="290.24" y1="362.90" x2="290.24" y2="365.70" stroke="#111" stroke-width="1.25"/>
<text x="290.24" y="375.20" stroke-width="0.22" font-size="6.6" text-anchor="middle" font-weight="normal" font-style="normal" >KO</text>
<text x="290.24" y="385.60" stroke-width="0.22" font-size="6.5" text-anchor="middle" font-weight="normal" font-style="normal" >n=9</text>
<line x1="269.51" y1="390.00" x2="295.61" y2="390.00" stroke="#111" stroke-width="1.3"/>
<text x="282.31" y="398.80" stroke-width="0.22" font-size="6.6" text-anchor="middle" font-weight="normal" font-style="italic" >Hif2α</text>
<rect x="300.39" y="304.30" width="10.35" height="58.40" fill="#2B4B85"/>
<line x1="305.56" y1="300.40" x2="305.56" y2="304.30" stroke="#000" stroke-width="1.2"/>
<line x1="302.67" y1="300.40" x2="308.46" y2="300.40" stroke="#000" stroke-width="1.2999999999999998"/>
<rect x="315.64" y="270.30" width="10.35" height="92.40" fill="#AE0428"/>
<rect x="315.64" y="258.30" width="10.35" height="4.10" fill="#AE0428"/>
<line x1="320.81" y1="253.90" x2="320.81" y2="258.30" stroke="#000" stroke-width="1.2"/>
<line x1="317.92" y1="253.90" x2="323.71" y2="253.90" stroke="#000" stroke-width="1.2999999999999998"/>
<line x1="305.56" y1="362.90" x2="305.56" y2="365.70" stroke="#111" stroke-width="1.25"/>
<text x="305.56" y="375.20" stroke-width="0.22" font-size="6.6" text-anchor="middle" font-weight="normal" font-style="normal" >WT</text>
<text x="305.56" y="385.60" stroke-width="0.22" font-size="6.5" text-anchor="middle" font-weight="normal" font-style="normal" >n=9</text>
<line x1="320.81" y1="362.90" x2="320.81" y2="365.70" stroke="#111" stroke-width="1.25"/>
<text x="320.81" y="375.20" stroke-width="0.22" font-size="6.6" text-anchor="middle" font-weight="normal" font-style="normal" >KO</text>
<text x="320.81" y="385.60" stroke-width="0.22" font-size="6.5" text-anchor="middle" font-weight="normal" font-style="normal" >n=9</text>
<line x1="300.09" y1="390.00" x2="326.19" y2="390.00" stroke="#111" stroke-width="1.3"/>
<text x="312.89" y="398.80" stroke-width="0.22" font-size="6.6" text-anchor="middle" font-weight="normal" font-style="italic" >Hmox1</text>
<rect x="330.97" y="304.30" width="10.35" height="58.40" fill="#2B4B85"/>
<line x1="336.14" y1="293.90" x2="336.14" y2="304.30" stroke="#000" stroke-width="1.2"/>
<line x1="333.25" y1="293.90" x2="339.04" y2="293.90" stroke="#000" stroke-width="1.2999999999999998"/>
<rect x="346.22" y="270.30" width="10.35" height="92.40" fill="#AE0428"/>
<rect x="346.22" y="242.40" width="10.35" height="20.00" fill="#AE0428"/>
<line x1="351.39" y1="229.60" x2="351.39" y2="242.40" stroke="#000" stroke-width="1.2"/>
<line x1="348.50" y1="229.60" x2="354.29" y2="229.60" stroke="#000" stroke-width="1.2999999999999998"/>
<line x1="336.14" y1="362.90" x2="336.14" y2="365.70" stroke="#111" stroke-width="1.25"/>
<text x="336.14" y="375.20" stroke-width="0.22" font-size="6.6" text-anchor="middle" font-weight="normal" font-style="normal" >WT</text>
<text x="336.14" y="385.60" stroke-width="0.22" font-size="6.5" text-anchor="middle" font-weight="normal" font-style="normal" >n=9</text>
<line x1="351.39" y1="362.90" x2="351.39" y2="365.70" stroke="#111" stroke-width="1.25"/>
<text x="351.39" y="375.20" stroke-width="0.22" font-size="6.6" text-anchor="middle" font-weight="normal" font-style="normal" >KO</text>
<text x="351.39" y="385.60" stroke-width="0.22" font-size="6.5" text-anchor="middle" font-weight="normal" font-style="normal" >n=9</text>
<line x1="330.67" y1="390.00" x2="356.77" y2="390.00" stroke="#111" stroke-width="1.3"/>
<text x="343.47" y="398.80" stroke-width="0.22" font-size="6.6" text-anchor="middle" font-weight="normal" font-style="italic" >Lcn2</text>
<rect x="361.55" y="304.30" width="10.35" height="58.40" fill="#2B4B85"/>
<line x1="366.72" y1="292.50" x2="366.72" y2="304.30" stroke="#000" stroke-width="1.2"/>
<line x1="363.82" y1="292.50" x2="369.62" y2="292.50" stroke="#000" stroke-width="1.2999999999999998"/>
<rect x="376.80" y="270.30" width="10.35" height="92.40" fill="#AE0428"/>
<rect x="376.80" y="236.10" width="10.35" height="26.30" fill="#AE0428"/>
<line x1="381.97" y1="221.10" x2="381.97" y2="236.10" stroke="#000" stroke-width="1.2"/>
<line x1="379.07" y1="221.10" x2="384.87" y2="221.10" stroke="#000" stroke-width="1.2999999999999998"/>
<line x1="366.72" y1="362.90" x2="366.72" y2="365.70" stroke="#111" stroke-width="1.25"/>
<text x="366.72" y="375.20" stroke-width="0.22" font-size="6.6" text-anchor="middle" font-weight="normal" font-style="normal" >WT</text>
<text x="366.72" y="385.60" stroke-width="0.22" font-size="6.5" text-anchor="middle" font-weight="normal" font-style="normal" >n=9</text>
<line x1="381.97" y1="362.90" x2="381.97" y2="365.70" stroke="#111" stroke-width="1.25"/>
<text x="381.97" y="375.20" stroke-width="0.22" font-size="6.6" text-anchor="middle" font-weight="normal" font-style="normal" >KO</text>
<text x="381.97" y="385.60" stroke-width="0.22" font-size="6.5" text-anchor="middle" font-weight="normal" font-style="normal" >n=9</text>
<line x1="361.25" y1="390.00" x2="387.35" y2="390.00" stroke="#111" stroke-width="1.3"/>
<text x="374.05" y="398.80" stroke-width="0.22" font-size="6.6" text-anchor="middle" font-weight="normal" font-style="italic" >Saa1</text>
<rect x="392.13" y="304.30" width="10.35" height="58.40" fill="#2B4B85"/>
<line x1="397.31" y1="300.40" x2="397.31" y2="304.30" stroke="#000" stroke-width="1.2"/>
<line x1="394.41" y1="300.40" x2="400.20" y2="300.40" stroke="#000" stroke-width="1.2999999999999998"/>
<rect x="407.38" y="270.30" width="10.35" height="92.40" fill="#AE0428"/>
<rect x="407.38" y="240.80" width="10.35" height="21.60" fill="#AE0428"/>
<line x1="412.56" y1="226.50" x2="412.56" y2="240.80" stroke="#000" stroke-width="1.2"/>
<line x1="409.66" y1="226.50" x2="415.45" y2="226.50" stroke="#000" stroke-width="1.2999999999999998"/>
<line x1="397.31" y1="362.90" x2="397.31" y2="365.70" stroke="#111" stroke-width="1.25"/>
<text x="397.31" y="375.20" stroke-width="0.22" font-size="6.6" text-anchor="middle" font-weight="normal" font-style="normal" >WT</text>
<text x="397.31" y="385.60" stroke-width="0.22" font-size="6.5" text-anchor="middle" font-weight="normal" font-style="normal" >n=9</text>
<line x1="412.56" y1="362.90" x2="412.56" y2="365.70" stroke="#111" stroke-width="1.25"/>
<text x="412.56" y="375.20" stroke-width="0.22" font-size="6.6" text-anchor="middle" font-weight="normal" font-style="normal" >KO</text>
<text x="412.56" y="385.60" stroke-width="0.22" font-size="6.5" text-anchor="middle" font-weight="normal" font-style="normal" >n=9</text>
<line x1="391.83" y1="390.00" x2="417.93" y2="390.00" stroke="#111" stroke-width="1.3"/>
<text x="404.63" y="398.80" stroke-width="0.22" font-size="6.6" text-anchor="middle" font-weight="normal" font-style="italic" >Tnfα</text>
<rect x="422.71" y="304.30" width="10.35" height="58.40" fill="#2B4B85"/>
<line x1="427.88" y1="300.40" x2="427.88" y2="304.30" stroke="#000" stroke-width="1.2"/>
<line x1="424.99" y1="300.40" x2="430.78" y2="300.40" stroke="#000" stroke-width="1.2999999999999998"/>
<rect x="437.96" y="270.30" width="10.35" height="92.40" fill="#AE0428"/>
<rect x="437.96" y="260.20" width="10.35" height="2.20" fill="#AE0428"/>
<line x1="443.13" y1="256.70" x2="443.13" y2="260.20" stroke="#000" stroke-width="1.2"/>
<line x1="440.24" y1="256.70" x2="446.03" y2="256.70" stroke="#000" stroke-width="1.2999999999999998"/>
<line x1="427.88" y1="362.90" x2="427.88" y2="365.70" stroke="#111" stroke-width="1.25"/>
<text x="427.88" y="375.20" stroke-width="0.22" font-size="6.6" text-anchor="middle" font-weight="normal" font-style="normal" >WT</text>
<text x="427.88" y="385.60" stroke-width="0.22" font-size="6.5" text-anchor="middle" font-weight="normal" font-style="normal" >n=9</text>
<line x1="443.13" y1="362.90" x2="443.13" y2="365.70" stroke="#111" stroke-width="1.25"/>
<text x="443.13" y="375.20" stroke-width="0.22" font-size="6.6" text-anchor="middle" font-weight="normal" font-style="normal" >KO</text>
<text x="443.13" y="385.60" stroke-width="0.22" font-size="6.5" text-anchor="middle" font-weight="normal" font-style="normal" >n=9</text>
<line x1="422.41" y1="390.00" x2="448.51" y2="390.00" stroke="#111" stroke-width="1.3"/>
<text x="435.21" y="398.80" stroke-width="0.22" font-size="6.6" text-anchor="middle" font-weight="normal" font-style="italic" >ActivinB</text>
<rect x="453.29" y="304.30" width="10.35" height="58.40" fill="#2B4B85"/>
<line x1="458.46" y1="301.30" x2="458.46" y2="304.30" stroke="#000" stroke-width="1.2"/>
<line x1="455.56" y1="301.30" x2="461.36" y2="301.30" stroke="#000" stroke-width="1.2999999999999998"/>
<rect x="468.54" y="270.30" width="10.35" height="92.40" fill="#AE0428"/>
<rect x="468.54" y="250.10" width="10.35" height="12.30" fill="#AE0428"/>
<line x1="473.71" y1="237.50" x2="473.71" y2="250.10" stroke="#000" stroke-width="1.2"/>
<line x1="470.81" y1="237.50" x2="476.61" y2="237.50" stroke="#000" stroke-width="1.2999999999999998"/>
<line x1="458.46" y1="362.90" x2="458.46" y2="365.70" stroke="#111" stroke-width="1.25"/>
<text x="458.46" y="375.20" stroke-width="0.22" font-size="6.6" text-anchor="middle" font-weight="normal" font-style="normal" >WT</text>
<text x="458.46" y="385.60" stroke-width="0.22" font-size="6.5" text-anchor="middle" font-weight="normal" font-style="normal" >n=9</text>
<line x1="473.71" y1="362.90" x2="473.71" y2="365.70" stroke="#111" stroke-width="1.25"/>
<text x="473.71" y="375.20" stroke-width="0.22" font-size="6.6" text-anchor="middle" font-weight="normal" font-style="normal" >KO</text>
<text x="473.71" y="385.60" stroke-width="0.22" font-size="6.5" text-anchor="middle" font-weight="normal" font-style="normal" >n=9</text>
<line x1="452.99" y1="390.00" x2="479.09" y2="390.00" stroke="#111" stroke-width="1.3"/>
<text x="465.79" y="398.80" stroke-width="0.22" font-size="6.6" text-anchor="middle" font-weight="normal" font-style="italic" >Il1β</text>
<rect x="483.87" y="304.30" width="10.35" height="58.40" fill="#2B4B85"/>
<line x1="489.05" y1="292.00" x2="489.05" y2="304.30" stroke="#000" stroke-width="1.2"/>
<line x1="486.15" y1="292.00" x2="491.94" y2="292.00" stroke="#000" stroke-width="1.2999999999999998"/>
<rect x="499.12" y="270.30" width="10.35" height="92.40" fill="#AE0428"/>
<rect x="499.12" y="245.20" width="10.35" height="17.20" fill="#AE0428"/>
<line x1="504.30" y1="227.60" x2="504.30" y2="245.20" stroke="#000" stroke-width="1.2"/>
<line x1="501.40" y1="227.60" x2="507.19" y2="227.60" stroke="#000" stroke-width="1.2999999999999998"/>
<line x1="489.05" y1="362.90" x2="489.05" y2="365.70" stroke="#111" stroke-width="1.25"/>
<text x="489.05" y="375.20" stroke-width="0.22" font-size="6.6" text-anchor="middle" font-weight="normal" font-style="normal" >WT</text>
<text x="489.05" y="385.60" stroke-width="0.22" font-size="6.5" text-anchor="middle" font-weight="normal" font-style="normal" >n=9</text>
<line x1="504.30" y1="362.90" x2="504.30" y2="365.70" stroke="#111" stroke-width="1.25"/>
<text x="504.30" y="375.20" stroke-width="0.22" font-size="6.6" text-anchor="middle" font-weight="normal" font-style="normal" >KO</text>
<text x="504.30" y="385.60" stroke-width="0.22" font-size="6.5" text-anchor="middle" font-weight="normal" font-style="normal" >n=9</text>
<line x1="483.57" y1="390.00" x2="509.67" y2="390.00" stroke="#111" stroke-width="1.3"/>
<text x="496.37" y="398.80" stroke-width="0.22" font-size="6.6" text-anchor="middle" font-weight="normal" font-style="italic" >Il6</text>
<polyline points="60.90,295.10 60.90,292.50 77.40,292.50 77.40,295.10" fill="none" stroke="#000" stroke-width="1.15"/>
<text x="69.30" y="291.30" stroke-width="0.22" font-size="7.5" text-anchor="middle" font-weight="normal" font-style="normal" >*</text>
<polyline points="120.60,266.40 120.60,263.80 137.60,263.80 137.60,266.40" fill="none" stroke="#000" stroke-width="1.15"/>
<text x="129.60" y="262.60" stroke-width="0.22" font-size="7.5" text-anchor="middle" font-weight="normal" font-style="normal" >*</text>
<polyline points="183.00,295.00 183.00,292.30 199.30,292.30 199.30,295.00" fill="none" stroke="#000" stroke-width="1.15"/>
<text x="191.90" y="291.30" stroke-width="0.22" font-size="7.5" text-anchor="middle" font-weight="normal" font-style="normal" >*</text>
<text transform="translate(26.9,287.5) rotate(-90)" stroke-width="0.22" font-size="6.9" text-anchor="middle">% mRNA (<tspan font-style="italic">Rpl19/Tbp</tspan> calibrated)</text>
<line x1="213.75" y1="476.25" x2="213.75" y2="569.10" stroke="#111" stroke-width="1.6"/>
<line x1="210.75" y1="568.30" x2="213.75" y2="568.30" stroke="#111" stroke-width="1.2"/>
<text x="206.90" y="570.60" stroke-width="0.22" font-size="6.3999999999999995" text-anchor="end" font-weight="normal" font-style="normal" >0</text>
<line x1="210.75" y1="558.46" x2="213.75" y2="558.46" stroke="#111" stroke-width="1.2"/>
<text x="206.90" y="560.76" stroke-width="0.22" font-size="6.3999999999999995" text-anchor="end" font-weight="normal" font-style="normal" >25</text>
<line x1="210.75" y1="548.62" x2="213.75" y2="548.62" stroke="#111" stroke-width="1.2"/>
<text x="206.90" y="550.92" stroke-width="0.22" font-size="6.3999999999999995" text-anchor="end" font-weight="normal" font-style="normal" >50</text>
<line x1="210.75" y1="538.79" x2="213.75" y2="538.79" stroke="#111" stroke-width="1.2"/>
<text x="206.90" y="541.09" stroke-width="0.22" font-size="6.3999999999999995" text-anchor="end" font-weight="normal" font-style="normal" >75</text>
<line x1="210.75" y1="528.95" x2="213.75" y2="528.95" stroke="#111" stroke-width="1.2"/>
<text x="206.90" y="531.25" stroke-width="0.22" font-size="6.3999999999999995" text-anchor="end" font-weight="normal" font-style="normal" >100</text>
<line x1="210.75" y1="519.11" x2="213.75" y2="519.11" stroke="#111" stroke-width="1.2"/>
<text x="206.90" y="521.41" stroke-width="0.22" font-size="6.3999999999999995" text-anchor="end" font-weight="normal" font-style="normal" >125</text>
<line x1="210.75" y1="509.27" x2="213.75" y2="509.27" stroke="#111" stroke-width="1.2"/>
<text x="206.90" y="511.57" stroke-width="0.22" font-size="6.3999999999999995" text-anchor="end" font-weight="normal" font-style="normal" >150</text>
<line x1="210.75" y1="499.44" x2="213.75" y2="499.44" stroke="#111" stroke-width="1.2"/>
<text x="206.90" y="501.74" stroke-width="0.22" font-size="6.3999999999999995" text-anchor="end" font-weight="normal" font-style="normal" >175</text>
<line x1="210.75" y1="489.60" x2="213.75" y2="489.60" stroke="#111" stroke-width="1.2"/>
<text x="206.90" y="491.90" stroke-width="0.22" font-size="6.3999999999999995" text-anchor="end" font-weight="normal" font-style="normal" >200</text>
<line x1="210.75" y1="479.76" x2="213.75" y2="479.76" stroke="#111" stroke-width="1.2"/>
<text x="206.90" y="482.06" stroke-width="0.22" font-size="6.3999999999999995" text-anchor="end" font-weight="normal" font-style="normal" >225</text>
<line x1="210.50" y1="568.30" x2="281.30" y2="568.30" stroke="#111" stroke-width="1.6"/>
<rect x="218.75" y="528.40" width="23.30" height="39.90" fill="#2B4B85"/>
<line x1="230.60" y1="523.50" x2="230.60" y2="528.40" stroke="#000" stroke-width="1.2"/>
<line x1="225.10" y1="523.50" x2="236.10" y2="523.50" stroke="#000" stroke-width="1.2999999999999998"/>
<rect x="252.50" y="493.30" width="22.80" height="75.00" fill="#AE0428"/>
<line x1="263.90" y1="486.80" x2="263.90" y2="493.30" stroke="#000" stroke-width="1.2"/>
<line x1="258.40" y1="486.80" x2="269.40" y2="486.80" stroke="#000" stroke-width="1.2999999999999998"/>
<polyline points="230.80,480.80 230.80,477.80 265.70,477.80 265.70,480.80" fill="none" stroke="#000" stroke-width="1.15"/>
<text x="247.50" y="477.00" stroke-width="0.22" font-size="7.5" text-anchor="middle" font-weight="normal" font-style="normal" >*</text>
<line x1="230.10" y1="568.30" x2="230.10" y2="571.00" stroke="#111" stroke-width="1.25"/>
<text x="230.10" y="580.50" stroke-width="0.22" font-size="6.6" text-anchor="middle" font-weight="normal" font-style="normal" >WT</text>
<text x="230.10" y="590.80" stroke-width="0.22" font-size="6.6" text-anchor="middle" font-weight="normal" font-style="normal" >n=3</text>
<line x1="263.90" y1="568.30" x2="263.90" y2="571.00" stroke="#111" stroke-width="1.25"/>
<text x="263.90" y="580.50" stroke-width="0.22" font-size="6.6" text-anchor="middle" font-weight="normal" font-style="normal" >KO</text>
<text x="263.90" y="590.80" stroke-width="0.22" font-size="6.6" text-anchor="middle" font-weight="normal" font-style="normal" >n=3</text>
<line x1="221.20" y1="595.30" x2="269.40" y2="595.30" stroke="#111" stroke-width="1.3"/>
<text x="245.20" y="603.60" stroke-width="0.22" font-size="6.6" text-anchor="middle" font-weight="normal" font-style="normal" >Fpn1</text>
<text transform="translate(190.60,522.20) rotate(-90)" stroke-width="0.22" font-size="7.1" text-anchor="middle">% of control (S6 calibrated)</text>
<line x1="338.75" y1="443.75" x2="338.75" y2="569.10" stroke="#111" stroke-width="1.6"/>
<line x1="335.75" y1="568.25" x2="338.75" y2="568.25" stroke="#111" stroke-width="1.2"/>
<text x="332.60" y="570.55" stroke-width="0.22" font-size="6.3999999999999995" text-anchor="end" font-weight="normal" font-style="normal" >0</text>
<line x1="335.75" y1="553.06" x2="338.75" y2="553.06" stroke="#111" stroke-width="1.2"/>
<text x="332.60" y="555.36" stroke-width="0.22" font-size="6.3999999999999995" text-anchor="end" font-weight="normal" font-style="normal" >25</text>
<line x1="335.75" y1="537.88" x2="338.75" y2="537.88" stroke="#111" stroke-width="1.2"/>
<text x="332.60" y="540.17" stroke-width="0.22" font-size="6.3999999999999995" text-anchor="end" font-weight="normal" font-style="normal" >50</text>
<line x1="335.75" y1="522.69" x2="338.75" y2="522.69" stroke="#111" stroke-width="1.2"/>
<text x="332.60" y="524.99" stroke-width="0.22" font-size="6.3999999999999995" text-anchor="end" font-weight="normal" font-style="normal" >75</text>
<line x1="335.75" y1="507.50" x2="338.75" y2="507.50" stroke="#111" stroke-width="1.2"/>
<text x="332.60" y="509.80" stroke-width="0.22" font-size="6.3999999999999995" text-anchor="end" font-weight="normal" font-style="normal" >100</text>
<line x1="335.75" y1="492.31" x2="338.75" y2="492.31" stroke="#111" stroke-width="1.2"/>
<text x="332.60" y="494.61" stroke-width="0.22" font-size="6.3999999999999995" text-anchor="end" font-weight="normal" font-style="normal" >125</text>
<line x1="335.75" y1="477.12" x2="338.75" y2="477.12" stroke="#111" stroke-width="1.2"/>
<text x="332.60" y="479.43" stroke-width="0.22" font-size="6.3999999999999995" text-anchor="end" font-weight="normal" font-style="normal" >150</text>
<line x1="335.75" y1="461.94" x2="338.75" y2="461.94" stroke="#111" stroke-width="1.2"/>
<text x="332.60" y="464.24" stroke-width="0.22" font-size="6.3999999999999995" text-anchor="end" font-weight="normal" font-style="normal" >175</text>
<line x1="335.75" y1="446.75" x2="338.75" y2="446.75" stroke="#111" stroke-width="1.2"/>
<text x="332.60" y="449.05" stroke-width="0.22" font-size="6.3999999999999995" text-anchor="end" font-weight="normal" font-style="normal" >200</text>
<line x1="336.20" y1="568.30" x2="505.00" y2="568.30" stroke="#111" stroke-width="1.6"/>
<rect x="340.75" y="507.50" width="9.60" height="60.80" fill="#2B4B85"/>
<line x1="345.55" y1="500.00" x2="345.55" y2="507.50" stroke="#000" stroke-width="1.2"/>
<line x1="342.65" y1="500.00" x2="348.45" y2="500.00" stroke="#000" stroke-width="1.2999999999999998"/>
<rect x="354.65" y="505.00" width="9.60" height="63.30" fill="#AE0428"/>
<line x1="359.45" y1="496.00" x2="359.45" y2="505.00" stroke="#000" stroke-width="1.2"/>
<line x1="356.55" y1="496.00" x2="362.35" y2="496.00" stroke="#000" stroke-width="1.2999999999999998"/>
<line x1="345.55" y1="568.30" x2="345.55" y2="571.00" stroke="#111" stroke-width="1.25"/>
<text x="345.55" y="580.50" stroke-width="0.22" font-size="6.6" text-anchor="middle" font-weight="normal" font-style="normal" >WT</text>
<text x="345.55" y="590.80" stroke-width="0.22" font-size="6.5" text-anchor="middle" font-weight="normal" font-style="normal" >n=6</text>
<line x1="359.45" y1="568.30" x2="359.45" y2="571.00" stroke="#111" stroke-width="1.25"/>
<text x="359.45" y="580.50" stroke-width="0.22" font-size="6.6" text-anchor="middle" font-weight="normal" font-style="normal" >KO</text>
<text x="359.45" y="590.80" stroke-width="0.22" font-size="6.5" text-anchor="middle" font-weight="normal" font-style="normal" >n=6</text>
<line x1="340.40" y1="595.30" x2="364.10" y2="595.30" stroke="#111" stroke-width="1.3"/>
<text x="352.65" y="603.80" stroke-width="0.22" font-size="6.6" text-anchor="middle" font-weight="normal" font-style="italic" >Fth1</text>
<rect x="368.62" y="507.50" width="9.60" height="60.80" fill="#2B4B85"/>
<line x1="373.42" y1="500.50" x2="373.42" y2="507.50" stroke="#000" stroke-width="1.2"/>
<line x1="370.52" y1="500.50" x2="376.32" y2="500.50" stroke="#000" stroke-width="1.2999999999999998"/>
<rect x="382.52" y="508.25" width="9.60" height="60.05" fill="#AE0428"/>
<line x1="387.32" y1="498.75" x2="387.32" y2="508.25" stroke="#000" stroke-width="1.2"/>
<line x1="384.42" y1="498.75" x2="390.22" y2="498.75" stroke="#000" stroke-width="1.2999999999999998"/>
<line x1="373.42" y1="568.30" x2="373.42" y2="571.00" stroke="#111" stroke-width="1.25"/>
<text x="373.42" y="580.50" stroke-width="0.22" font-size="6.6" text-anchor="middle" font-weight="normal" font-style="normal" >WT</text>
<text x="373.42" y="590.80" stroke-width="0.22" font-size="6.5" text-anchor="middle" font-weight="normal" font-style="normal" >n=6</text>
<line x1="387.32" y1="568.30" x2="387.32" y2="571.00" stroke="#111" stroke-width="1.25"/>
<text x="387.32" y="580.50" stroke-width="0.22" font-size="6.6" text-anchor="middle" font-weight="normal" font-style="normal" >KO</text>
<text x="387.32" y="590.80" stroke-width="0.22" font-size="6.5" text-anchor="middle" font-weight="normal" font-style="normal" >n=6</text>
<line x1="368.10" y1="595.30" x2="391.80" y2="595.30" stroke="#111" stroke-width="1.3"/>
<text x="380.35" y="603.80" stroke-width="0.22" font-size="6.6" text-anchor="middle" font-weight="normal" font-style="italic" >Ftl</text>
<rect x="396.49" y="507.50" width="9.60" height="60.80" fill="#2B4B85"/>
<line x1="401.29" y1="493.75" x2="401.29" y2="507.50" stroke="#000" stroke-width="1.2"/>
<line x1="398.39" y1="493.75" x2="404.19" y2="493.75" stroke="#000" stroke-width="1.2999999999999998"/>
<rect x="410.39" y="483.75" width="9.60" height="84.55" fill="#AE0428"/>
<line x1="415.19" y1="448.75" x2="415.19" y2="483.75" stroke="#000" stroke-width="1.2"/>
<line x1="412.29" y1="448.75" x2="418.09" y2="448.75" stroke="#000" stroke-width="1.2999999999999998"/>
<line x1="401.29" y1="568.30" x2="401.29" y2="571.00" stroke="#111" stroke-width="1.25"/>
<text x="401.29" y="580.50" stroke-width="0.22" font-size="6.6" text-anchor="middle" font-weight="normal" font-style="normal" >WT</text>
<text x="401.29" y="590.80" stroke-width="0.22" font-size="6.5" text-anchor="middle" font-weight="normal" font-style="normal" >n=6</text>
<line x1="415.19" y1="568.30" x2="415.19" y2="571.00" stroke="#111" stroke-width="1.25"/>
<text x="415.19" y="580.50" stroke-width="0.22" font-size="6.6" text-anchor="middle" font-weight="normal" font-style="normal" >KO</text>
<text x="415.19" y="590.80" stroke-width="0.22" font-size="6.5" text-anchor="middle" font-weight="normal" font-style="normal" >n=6</text>
<line x1="395.20" y1="595.30" x2="418.90" y2="595.30" stroke="#111" stroke-width="1.3"/>
<text x="407.45" y="603.80" stroke-width="0.22" font-size="6.6" text-anchor="middle" font-weight="normal" font-style="italic" >Tfrc</text>
<rect x="424.36" y="507.50" width="9.60" height="60.80" fill="#2B4B85"/>
<line x1="429.16" y1="496.00" x2="429.16" y2="507.50" stroke="#000" stroke-width="1.2"/>
<line x1="426.26" y1="496.00" x2="432.06" y2="496.00" stroke="#000" stroke-width="1.2999999999999998"/>
<rect x="438.26" y="490.00" width="9.60" height="78.30" fill="#AE0428"/>
<line x1="443.06" y1="479.50" x2="443.06" y2="490.00" stroke="#000" stroke-width="1.2"/>
<line x1="440.16" y1="479.50" x2="445.96" y2="479.50" stroke="#000" stroke-width="1.2999999999999998"/>
<line x1="429.16" y1="568.30" x2="429.16" y2="571.00" stroke="#111" stroke-width="1.25"/>
<text x="429.16" y="580.50" stroke-width="0.22" font-size="6.6" text-anchor="middle" font-weight="normal" font-style="normal" >WT</text>
<text x="429.16" y="590.80" stroke-width="0.22" font-size="6.5" text-anchor="middle" font-weight="normal" font-style="normal" >n=6</text>
<line x1="443.06" y1="568.30" x2="443.06" y2="571.00" stroke="#111" stroke-width="1.25"/>
<text x="443.06" y="580.50" stroke-width="0.22" font-size="6.6" text-anchor="middle" font-weight="normal" font-style="normal" >KO</text>
<text x="443.06" y="590.80" stroke-width="0.22" font-size="6.5" text-anchor="middle" font-weight="normal" font-style="normal" >n=6</text>
<line x1="422.30" y1="595.30" x2="446.00" y2="595.30" stroke="#111" stroke-width="1.3"/>
<text x="434.55" y="603.80" stroke-width="0.22" font-size="6.6" text-anchor="middle" font-weight="normal" font-style="italic" >Slc11a2</text>
<text x="434.55" y="612.30" stroke-width="0.22" font-size="6.6" text-anchor="middle" font-weight="normal" font-style="italic" >IRE</text>
<rect x="452.23" y="507.50" width="9.60" height="60.80" fill="#2B4B85"/>
<line x1="457.03" y1="499.50" x2="457.03" y2="507.50" stroke="#000" stroke-width="1.2"/>
<line x1="454.13" y1="499.50" x2="459.93" y2="499.50" stroke="#000" stroke-width="1.2999999999999998"/>
<rect x="466.13" y="497.75" width="9.60" height="70.55" fill="#AE0428"/>
<line x1="470.93" y1="488.25" x2="470.93" y2="497.75" stroke="#000" stroke-width="1.2"/>
<line x1="468.03" y1="488.25" x2="473.83" y2="488.25" stroke="#000" stroke-width="1.2999999999999998"/>
<line x1="457.03" y1="568.30" x2="457.03" y2="571.00" stroke="#111" stroke-width="1.25"/>
<text x="457.03" y="580.50" stroke-width="0.22" font-size="6.6" text-anchor="middle" font-weight="normal" font-style="normal" >WT</text>
<text x="457.03" y="590.80" stroke-width="0.22" font-size="6.5" text-anchor="middle" font-weight="normal" font-style="normal" >n=6</text>
<line x1="470.93" y1="568.30" x2="470.93" y2="571.00" stroke="#111" stroke-width="1.25"/>
<text x="470.93" y="580.50" stroke-width="0.22" font-size="6.6" text-anchor="middle" font-weight="normal" font-style="normal" >KO</text>
<text x="470.93" y="590.80" stroke-width="0.22" font-size="6.5" text-anchor="middle" font-weight="normal" font-style="normal" >n=6</text>
<line x1="449.60" y1="595.30" x2="473.30" y2="595.30" stroke="#111" stroke-width="1.3"/>
<text x="461.85" y="603.80" stroke-width="0.22" font-size="6.6" text-anchor="middle" font-weight="normal" font-style="italic" >Slc11a2</text>
<text x="461.85" y="612.30" stroke-width="0.22" font-size="6.6" text-anchor="middle" font-weight="normal" font-style="italic" >non IRE</text>
<rect x="480.10" y="507.50" width="9.60" height="60.80" fill="#2B4B85"/>
<line x1="484.90" y1="500.00" x2="484.90" y2="507.50" stroke="#000" stroke-width="1.2"/>
<line x1="482.00" y1="500.00" x2="487.80" y2="500.00" stroke="#000" stroke-width="1.2999999999999998"/>
<rect x="494.00" y="481.75" width="9.60" height="86.55" fill="#AE0428"/>
<line x1="498.80" y1="476.50" x2="498.80" y2="481.75" stroke="#000" stroke-width="1.2"/>
<line x1="495.90" y1="476.50" x2="501.70" y2="476.50" stroke="#000" stroke-width="1.2999999999999998"/>
<line x1="484.90" y1="568.30" x2="484.90" y2="571.00" stroke="#111" stroke-width="1.25"/>
<text x="484.90" y="580.50" stroke-width="0.22" font-size="6.6" text-anchor="middle" font-weight="normal" font-style="normal" >WT</text>
<text x="484.90" y="590.80" stroke-width="0.22" font-size="6.5" text-anchor="middle" font-weight="normal" font-style="normal" >n=6</text>
<line x1="498.80" y1="568.30" x2="498.80" y2="571.00" stroke="#111" stroke-width="1.25"/>
<text x="498.80" y="580.50" stroke-width="0.22" font-size="6.6" text-anchor="middle" font-weight="normal" font-style="normal" >KO</text>
<text x="498.80" y="590.80" stroke-width="0.22" font-size="6.5" text-anchor="middle" font-weight="normal" font-style="normal" >n=6</text>
<line x1="478.10" y1="595.30" x2="501.80" y2="595.30" stroke="#111" stroke-width="1.3"/>
<text x="490.35" y="603.80" stroke-width="0.22" font-size="6.6" text-anchor="middle" font-weight="normal" font-style="italic" >Slc40a11</text>
<polyline points="483.10,474.10 483.10,471.50 499.20,471.50 499.20,474.10" fill="none" stroke="#000" stroke-width="1.15"/>
<text x="491.20" y="471.30" stroke-width="0.22" font-size="7.5" text-anchor="middle" font-weight="normal" font-style="normal" >*</text>
<text transform="translate(315.8,506) rotate(-90)" stroke-width="0.22" font-size="6.9" text-anchor="middle">% mRNA (<tspan font-style="italic">Rpl19/Tbp</tspan> calibrated)</text>
</g>
<rect x="0" y="0" width="520" height="1.2" fill="#000"/><rect x="0" y="0" width="1.3" height="621" fill="#000"/><rect x="518.5" y="0" width="1.5" height="621" fill="#000"/><rect x="0" y="618.9" width="520" height="2.1" fill="#000"/>
</svg>
</body></html>
